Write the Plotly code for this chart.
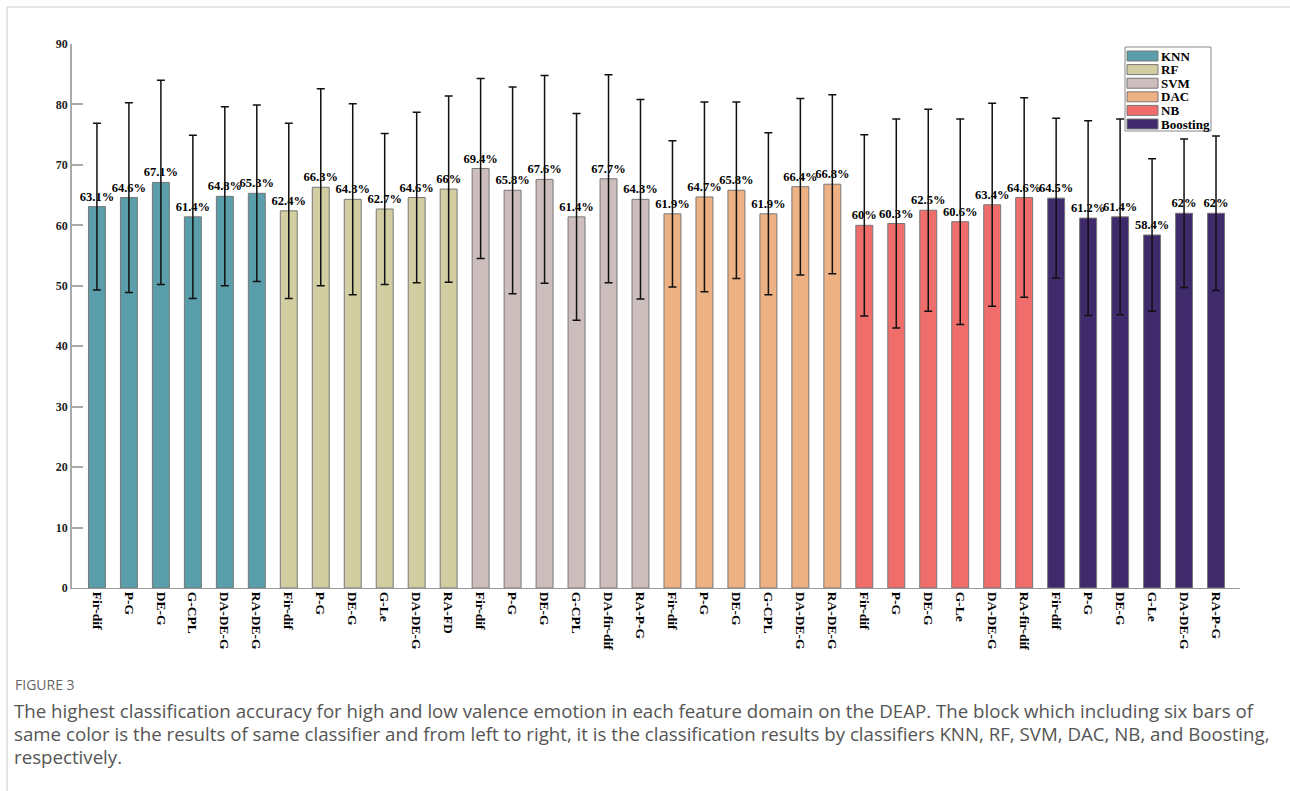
import plotly.graph_objects as go

classifiers = ["KNN", "RF", "SVM", "DAC", "NB", "Boosting"]
colors = ["#5b9eab", "#d2cea1", "#cdbdbd", "#eeb184", "#ef6e6b", "#3f2a6b"]

knn_feat = ["Fir-dif", "P-G", "DE-G", "G-CPL", "DA-DE-G", "RA-DE-G"]
rf_feat = ["Fir-dif", "P-G", "DE-G", "G-Le", "DA-DE-G", "RA-FD"]
svm_feat = ["Fir-dif", "P-G", "DE-G", "G-CPL", "DA-fir-dif", "RA-P-G"]
dac_feat = ["Fir-dif", "P-G", "DE-G", "G-CPL", "DA-DE-G", "RA-DE-G"]
nb_feat = ["Fir-dif", "P-G", "DE-G", "G-Le", "DA-DE-G", "RA-fir-dif"]
boost_feat = ["Fir-dif", "P-G", "DE-G", "G-Le", "DA-DE-G", "RA-P-G"]

knn_acc = [63.1, 64.6, 67.1, 61.4, 64.8, 65.3]
rf_acc = [62.4, 66.3, 64.3, 62.7, 64.6, 66.0]
svm_acc = [69.4, 65.8, 67.6, 61.4, 67.7, 64.3]
dac_acc = [61.9, 64.7, 65.8, 61.9, 66.4, 66.8]
nb_acc = [60.0, 60.3, 62.5, 60.6, 63.4, 64.6]
boost_acc = [64.5, 61.2, 61.4, 58.4, 62.0, 62.0]

knn_err = [13.8, 15.7, 16.9, 13.5, 14.8, 14.6]
rf_err = [14.5, 16.3, 15.8, 12.5, 14.1, 15.4]
svm_err = [14.9, 17.1, 17.2, 17.1, 17.2, 16.5]
dac_err = [12.1, 15.7, 14.6, 13.4, 14.6, 14.8]
nb_err = [15.0, 17.3, 16.7, 17.0, 16.8, 16.5]
boost_err = [13.2, 16.1, 16.2, 12.6, 12.3, 12.8]

y_ticks = [0, 10, 20, 30, 40, 50, 60, 70, 80, 90]

feats = [knn_feat, rf_feat, svm_feat, dac_feat, nb_feat, boost_feat]
accs = [knn_acc, rf_acc, svm_acc, dac_acc, nb_acc, boost_acc]
errs = [knn_err, rf_err, svm_err, dac_err, nb_err, boost_err]

SERIF = "Liberation Serif, Times New Roman, serif"

# pixel geometry of plot area
L, R, T, B = 72, 1240, 44, 588
W, H = 1290, 791


def px(x):
    return (x - L) / (R - L)


def py(y):
    return (B - y) / (B - T)


def fmt(v):
    return f"{v:g}%"


fig = go.Figure()
all_labels = []
pos = 0
for name, col, f, a, e in zip(classifiers, colors, feats, accs, errs):
    xs = list(range(pos, pos + len(a)))
    all_labels += f
    pos += len(a)
    fig.add_trace(go.Bar(
        x=xs, y=a, name=name,
        marker=dict(color=col, line=dict(color="#777777", width=1)),
        error_y=dict(type="data", array=e, visible=True, color="#111111",
                     thickness=1.5, width=4),
        text=[fmt(v) for v in a], textposition="outside",
        textfont=dict(family=SERIF, size=12.5, color="#000000", weight="bold"),
        cliponaxis=False, showlegend=False, constraintext="none",
    ))

n = len(all_labels)

shapes = [
    # page frame
    dict(type="line", xref="paper", yref="paper", x0=px(7), x1=px(1290),
         y0=py(7), y1=py(7), line=dict(color="#cccccc", width=1)),
    dict(type="line", xref="paper", yref="paper", x0=px(7), x1=px(7),
         y0=py(7), y1=py(791), line=dict(color="#cccccc", width=1)),
    # legend box
    dict(type="rect", xref="paper", yref="paper", x0=px(1125), x1=px(1211),
         y0=py(131), y1=py(47), line=dict(color="#888888", width=1),
         fillcolor="white", layer="above"),
]
annotations = []
for i, (name, col) in enumerate(zip(classifiers, colors)):
    cy = 56 + i * 13.6
    shapes.append(dict(type="rect", xref="paper", yref="paper",
                       x0=px(1127), x1=px(1158), y0=py(cy + 5), y1=py(cy - 5),
                       fillcolor=col, line=dict(color="#777777", width=1),
                       layer="above"))
    annotations.append(dict(xref="paper", yref="paper", x=px(1159), y=py(cy),
                            text=f"<b>{name}</b>", showarrow=False,
                            xanchor="left", yanchor="middle",
                            font=dict(family=SERIF, size=13, color="#000")))

CAP = "Open Sans, Noto Sans, sans-serif"
annotations.append(dict(xref="paper", yref="paper", x=px(13), y=py(684),
                        text="FIGURE 3", showarrow=False, xanchor="left",
                        yanchor="middle",
                        font=dict(family=CAP, size=14, color="#666666")))
cap_lines = [
    "The highest classification accuracy for high and low valence emotion in each feature domain on the DEAP. The block which including six bars of",
    "same color is the results of same classifier and from left to right, it is the classification results by classifiers KNN, RF, SVM, DAC, NB, and Boosting,",
    "respectively.",
]
for k, line in enumerate(cap_lines):
    annotations.append(dict(xref="paper", yref="paper", x=px(12),
                            y=py(710 + 23 * k), text=line, showarrow=False,
                            xanchor="left", yanchor="middle",
                            font=dict(family=CAP, size=18.7, color="#555555")))

fig.update_layout(
    width=W, height=H,
    margin=dict(l=L, r=W - R, t=T, b=H - B),
    plot_bgcolor="white", paper_bgcolor="white",
    bargap=0.47, barmode="group",
    shapes=shapes, annotations=annotations,
    xaxis=dict(range=[-0.78, n - 1 + 0.75], tickmode="array",
               tickvals=list(range(n)), ticktext=[f"<b>{t}</b>" for t in all_labels],
               tickangle=90, showline=True, linecolor="#999999", linewidth=1,
               ticks="", showgrid=False, zeroline=False,
               tickfont=dict(family=SERIF, size=13.5, color="#000000")),
    yaxis=dict(range=[0, 90], tickmode="array", tickvals=y_ticks,
               ticktext=[f"<b>{v}</b>" for v in y_ticks],
               showline=True, linecolor="#aaaaaa", linewidth=1.5,
               ticks="inside", ticklen=11, tickcolor="#aaaaaa", tickwidth=1.5,
               showgrid=False, zeroline=False,
               tickfont=dict(family=SERIF, size=12, color="#222222")),
)

fig.write_html("out.html", config={"displayModeBar": False},
               post_script="document.body.style.margin='0px';")
